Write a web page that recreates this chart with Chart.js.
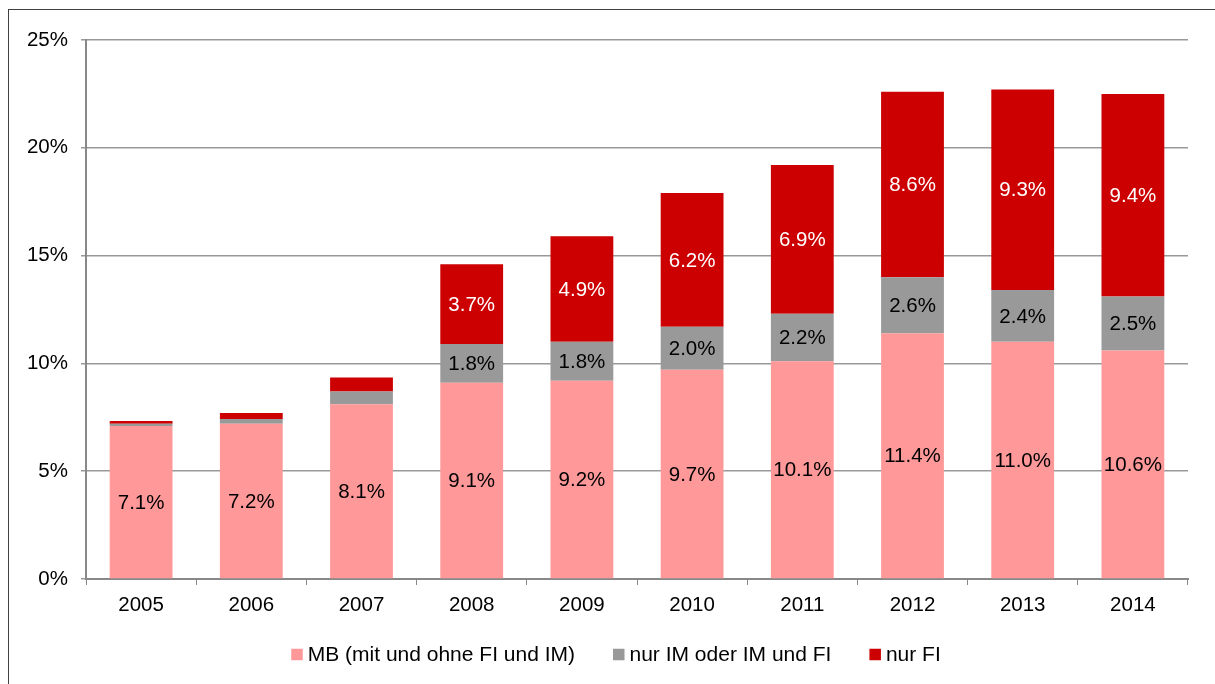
<!DOCTYPE html>
<html>
<head>
<meta charset="utf-8">
<script src="https://cdn.jsdelivr.net/npm/chart.js@4.4.1/dist/chart.umd.min.js"></script>
<style>
html,body{margin:0;padding:0;background:#fff;overflow:hidden;}
#wrap{position:relative;width:1215px;height:684px;}
#frame{position:absolute;left:8px;top:9px;width:1400px;height:1000px;border:1px solid #404040;box-sizing:border-box;pointer-events:none;}
canvas{position:absolute;left:0;top:0;}
</style>
</head>
<body>
<div id="wrap">
<canvas id="c" width="1215" height="684"></canvas>
<div id="frame"></div>
</div>
<script>
const categories = ['2005','2006','2007','2008','2009','2010','2011','2012','2013','2014'];
const mbValues   = [7.1, 7.2, 8.1, 9.1, 9.2, 9.7, 10.1, 11.4, 11.0, 10.6];
const imValues   = [0.1, 0.22, 0.6, 1.8, 1.8, 2.0, 2.2, 2.6, 2.4, 2.5];
const fiValues   = [0.13, 0.28, 0.65, 3.7, 4.9, 6.2, 6.9, 8.6, 9.3, 9.4];
const seriesNames = ['MB (mit und ohne FI und IM)', 'nur IM oder IM und FI', 'nur FI'];
const yTicks = [0, 5, 10, 15, 20, 25];

const FONT = "'Liberation Sans', Arial, sans-serif";

const labelPlugin = {
  id: 'barLabels',
  afterDatasetsDraw(chart) {
    const ctx = chart.ctx;
    ctx.save();
    ctx.font = '20.5px ' + FONT;
    ctx.textAlign = 'center';
    ctx.textBaseline = 'middle';
    chart.data.datasets.forEach((ds, di) => {
      const meta = chart.getDatasetMeta(di);
      meta.data.forEach((bar, i) => {
        const v = ds.data[i];
        if (v < 1) return;
        const props = bar.getProps(['x','y','base'], true);
        const cy = (props.y + props.base) / 2;
        ctx.fillStyle = ds.labelColor;
        ctx.fillText(v.toFixed(1) + '%', props.x, cy + 1);
      });
    });
    ctx.restore();
  }
};

const legendPlugin = {
  id: 'customLegend',
  afterDraw(chart) {
    const ctx = chart.ctx;
    ctx.save();
    ctx.font = '21px ' + FONT;
    ctx.textBaseline = 'middle';
    ctx.textAlign = 'left';
    const box = 11.5, gapText = 5, gapItem = 38;
    const items = chart.data.datasets.map(ds => ({text: ds.label, color: ds.backgroundColor, w: ctx.measureText(ds.label).width}));
    const total = items.reduce((s, it) => s + box + gapText + it.w, 0) + gapItem * (items.length - 1);
    let x = 616 - total / 2;
    const cy = 654.5;
    items.forEach(it => {
      ctx.fillStyle = it.color;
      ctx.fillRect(x, cy - box / 2, box, box);
      ctx.fillStyle = '#000';
      ctx.fillText(it.text, x + box + gapText, cy + 1);
      x += box + gapText + it.w + gapItem;
    });
    ctx.restore();
  }
};

new Chart(document.getElementById('c'), {
  type: 'bar',
  data: {
    labels: categories,
    datasets: [
      {label: seriesNames[0], data: mbValues, backgroundColor: '#FF9999', labelColor: '#000'},
      {label: seriesNames[1], data: imValues, backgroundColor: '#999999', labelColor: '#000'},
      {label: seriesNames[2], data: fiValues, backgroundColor: '#CC0000', labelColor: '#fff'}
    ]
  },
  options: {
    responsive: false,
    animation: false,
    devicePixelRatio: 1,
    layout: {padding: {left: 0, right: 27, top: 40, bottom: 47}},
    datasets: {bar: {barPercentage: 0.57, categoryPercentage: 1.0}},
    plugins: {
      legend: {display: false},
      tooltip: {enabled: false}
    },
    scales: {
      x: {
        stacked: true,
        offset: true,
        grid: {display: true, drawOnChartArea: false, drawTicks: true, tickLength: 6, color: '#888', offset: true},
        border: {display: true, color: '#888', width: 2},
        ticks: {font: {family: FONT, size: 20.5}, color: '#000', padding: 8},
        afterFit(s) { s.height = 58; }
      },
      y: {
        stacked: true,
        min: 0, max: 25,
        afterBuildTicks(s) { s.ticks = yTicks.map(v => ({value: v})); },
        grid: {color: '#999', lineWidth: 1.5, tickLength: 5},
        border: {display: true, color: '#888', width: 2},
        ticks: {font: {family: FONT, size: 20.5}, color: '#000', padding: 13, callback: v => v + '%'},
        afterFit(s) { s.width = 86; }
      }
    }
  },
  plugins: [labelPlugin, legendPlugin]
});
</script>
</body>
</html>
